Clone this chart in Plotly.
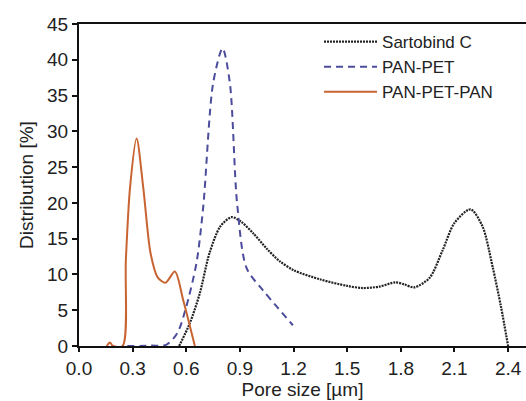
import plotly.graph_objects as go

# Sartobind C
sart_x = [0.56, 0.62, 0.676, 0.73, 0.79, 0.853, 0.91, 0.98, 1.05, 1.12, 1.2, 1.35, 1.5, 1.587, 1.68, 1.77, 1.82, 1.875, 1.96, 2.034, 2.1, 2.19, 2.257, 2.313, 2.36, 2.40]
sart_y = [0.0, 3.2, 7.4, 13.0, 16.7, 18.0, 17.3, 15.6, 13.6, 11.9, 10.6, 9.3, 8.4, 8.1, 8.3, 8.9, 8.6, 8.2, 9.5, 13.4, 17.2, 19.1, 16.7, 11.1, 5.5, 0.0]

# PAN-PET
pet_x = [0.27, 0.40, 0.49, 0.55, 0.60, 0.657, 0.695, 0.75, 0.803, 0.844, 0.884, 0.937, 1.028, 1.11, 1.196]
pet_y = [0.0, 0.05, 0.2, 1.8, 5.5, 11.6, 19.5, 36.7, 41.6, 36.7, 20.0, 10.9, 7.8, 5.4, 2.9]

# PAN-PET-PAN
pan_x = [0.155, 0.173, 0.19, 0.244, 0.262, 0.285, 0.322, 0.36, 0.40, 0.44, 0.484, 0.536, 0.583, 0.648]
pan_y = [0.0, 0.5, 0.0, 0.0, 12.0, 22.0, 29.0, 22.0, 13.0, 9.6, 8.85, 10.4, 6.4, 0.0]

x_ticks = [0.0, 0.3, 0.6, 0.9, 1.2, 1.5, 1.8, 2.1, 2.4]
y_ticks = [0, 5, 10, 15, 20, 25, 30, 35, 40, 45]

font = "Liberation Sans, Arial, sans-serif"

fig = go.Figure()
fig.add_trace(go.Scatter(x=sart_x, y=sart_y, mode="lines", name="Sartobind C",
                         line=dict(color="#222222", width=2.2, dash="2px,1px", shape="spline", smoothing=0.8)))
fig.add_trace(go.Scatter(x=pet_x, y=pet_y, mode="lines", name="PAN-PET",
                         line=dict(color="#4c4c9c", width=2, dash="7px,5px", shape="spline", smoothing=0.8)))
fig.add_trace(go.Scatter(x=pan_x, y=pan_y, mode="lines", name="PAN-PET-PAN",
                         line=dict(color="#c86432", width=2, shape="spline", smoothing=0.8)))

fig.update_layout(
    width=526, height=401,
    margin=dict(l=79, r=0, t=24, b=55),
    paper_bgcolor="white", plot_bgcolor="white",
    font=dict(family=font, size=19, color="#222222"),
    showlegend=True,
    legend=dict(x=0.537, y=1.0, xanchor="left", yanchor="top",
                bgcolor="rgba(0,0,0,0)", font=dict(size=17, color="#222222"),
                itemwidth=53, tracegroupgap=0),
    xaxis=dict(range=[0, 2.5], tickvals=x_ticks, ticktext=[f"{v:.1f}" for v in x_ticks],
               showgrid=False, zeroline=False, showline=True, linecolor="#111111", linewidth=2,
               mirror=True, ticks="outside", ticklen=4, tickwidth=2, tickcolor="#111111",
               tickfont=dict(size=19),
               title=dict(text="Pore size [µm]", standoff=2, font=dict(size=19))),
    yaxis=dict(range=[0, 45], tickvals=y_ticks, showgrid=False, zeroline=False,
               showline=True, linecolor="#111111", linewidth=2,
               ticks="outside", ticklen=5, tickwidth=2, tickcolor="#111111",
               tickfont=dict(size=19),
               title=dict(text="Distribution [%]", standoff=8, font=dict(size=19))),
)

fig.write_html("out.html")
